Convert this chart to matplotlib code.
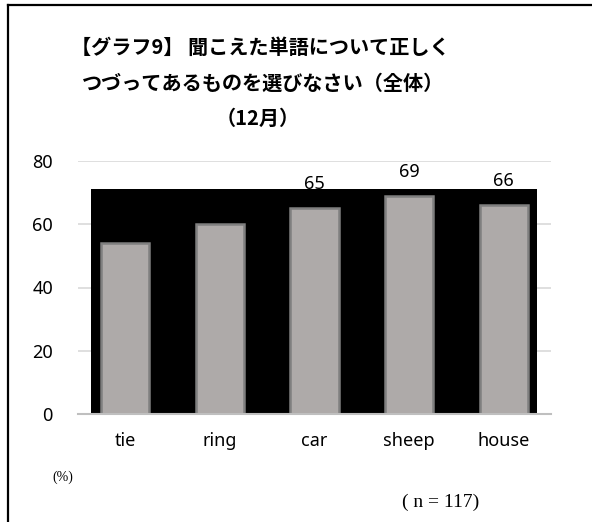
import matplotlib
matplotlib.use('Agg')
import matplotlib.pyplot as plt
from matplotlib.patches import Rectangle
from matplotlib.lines import Line2D

# data
words = ['tie', 'ring', 'car', 'sheep', 'house']
percent = [54, 60, 65, 69, 66]
yticks = [0, 20, 40, 60, 80]
shade_top = 71  # black backdrop height in the original

plt.rcParams['font.family'] = ['Noto Sans', 'Noto Sans CJK JP', 'DejaVu Sans']

fig = plt.figure(figsize=(5.92, 5.22), dpi=100)
ax = fig.add_axes([78 / 592, 1 - 414 / 522, (551 - 78) / 592, (414 - 161) / 522])

x = list(range(len(words)))
ax.add_patch(Rectangle((-0.36, 0), 4.71, shade_top, facecolor='black',
                       edgecolor='none', zorder=1))
bars = ax.bar(x, percent, width=0.51, color='#aeaaa9', edgecolor='#7f7f7f',
              linewidth=1.8, zorder=2)
for xi, v in zip(x, percent):
    ax.text(xi, v + 7.6, str(v), ha='center', va='center', fontsize=13,
            color='black', zorder=3)

ax.set_xlim(-0.5, 4.5)
ax.set_ylim(0, 80)
ax.set_yticks(yticks)
ax.set_xticks(x)
ax.set_xticklabels(words)
ax.tick_params(length=0, labelsize=13)
ax.tick_params(axis='x', pad=13)
ax.tick_params(axis='y', pad=18)
ax.grid(axis='y', color='#d9d9d9', linewidth=1.2, zorder=0)
ax.set_axisbelow(True)
for s in ['top', 'right', 'left']:
    ax.spines[s].set_visible(False)
ax.spines['bottom'].set_color('#bfbfbf')
ax.spines['bottom'].set_linewidth(1.5)
ax.spines['bottom'].set_zorder(4)

title_font = ['Noto Sans CJK JP', 'DejaVu Sans']
fig.text(260 / 592, 1 - 47 / 522, '【グラフ9】 聞こえた単語について正しく',
         ha='center', va='center', fontsize=14.5, fontweight='bold',
         family=title_font)
fig.text(263 / 592, 1 - 83 / 522, 'つづってあるものを選びなさい（全体）',
         ha='center', va='center', fontsize=14.5, fontweight='bold',
         family=title_font)
fig.text(258 / 592, 1 - 118 / 522, '（12月）',
         ha='center', va='center', fontsize=14.5, fontweight='bold',
         family=title_font)

fig.text(63 / 592, 1 - 477 / 522, '(%)', ha='center', va='center',
         fontsize=10, family=['Liberation Serif'])
fig.text(441 / 592, 1 - 502 / 522, '( n = 117)', ha='center', va='center',
         fontsize=14, family=['Liberation Serif'])

# frame lines (top and left only)
fig.add_artist(Line2D([8 / 592, 1], [1 - 5 / 522, 1 - 5 / 522],
                      transform=fig.transFigure, color='black', linewidth=1.6))
fig.add_artist(Line2D([8 / 592, 8 / 592], [0, 1 - 5 / 522],
                      transform=fig.transFigure, color='black', linewidth=1.6))

fig.savefig('out.png', dpi=100)
